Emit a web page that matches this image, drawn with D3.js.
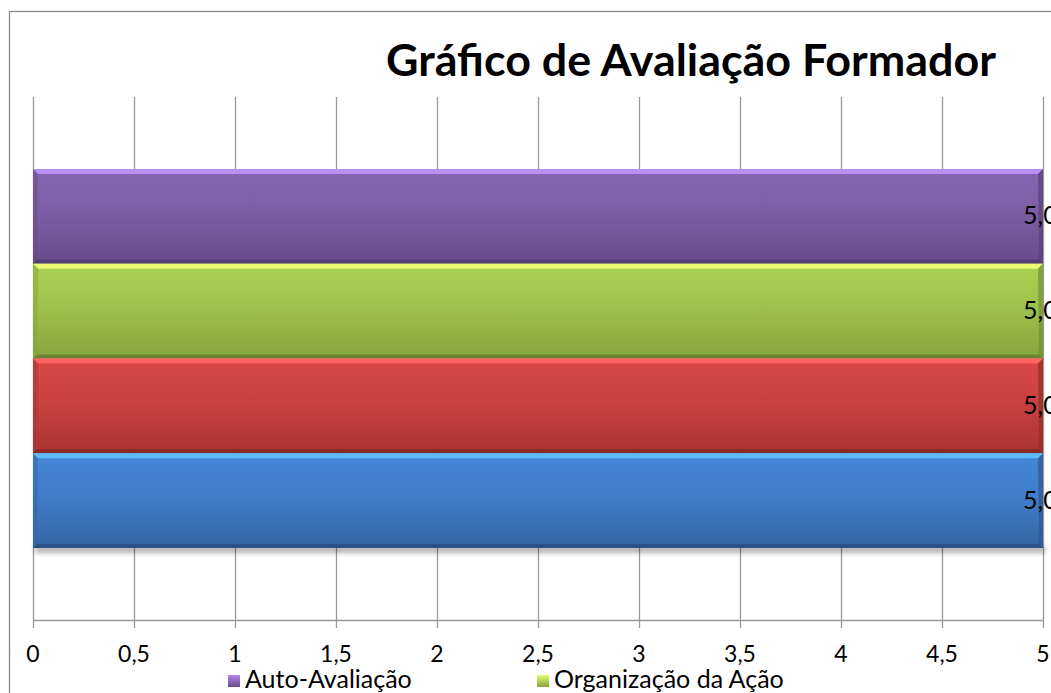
<!DOCTYPE html>
<html>
<head>
<meta charset="utf-8">
<script src="https://cdn.jsdelivr.net/npm/d3@7"></script>
<style>
  html, body { margin: 0; padding: 0; background: #fff; overflow: hidden; }
  svg { display: block; }
  text { font-family: Lato, "Open Sans", sans-serif; fill: #000; }
</style>
</head>
<body>
<svg id="chart" width="1120" height="760"></svg>
<script>
// Evaluation scores, one bar per series (top to bottom)
const seriesNames = ["Auto-Avaliação", "Organização da Ação", "Relação Pedagógica", "Desempenho do Formador"];
const seriesValues = [5, 5, 5, 5];
const seriesTop = ["#8666b2", "#a9d052", "#d84845", "#4587d9"];
const seriesBottom = ["#684a8a", "#85a43d", "#aa3331", "#3465a4"];
const xTicks = [0, 0.5, 1, 1.5, 2, 2.5, 3, 3.5, 4, 4.5, 5];
const titleText = "Gráfico de Avaliação Formador";

const svg = d3.select("#chart");
const fmtTick = v => String(v).replace(".", ",");
const fmtValue = v => v.toFixed(1).replace(".", ",");

const plot = { left: 33, right: 1043, top: 97, bottom: 620 };

const x = d3.scaleLinear().domain([0, 5]).range([plot.left, plot.right]);
const y = d3.scaleBand().domain(seriesNames).range([plot.top, plot.bottom])
  .paddingInner(0).paddingOuter(0.76);

// gradients
const defs = svg.append("defs");
seriesNames.forEach((n, i) => {
  const top = d3.color(seriesTop[i]), bot = d3.color(seriesBottom[i]);
  const g = defs.append("linearGradient").attr("id", "grad" + i)
    .attr("x1", 0).attr("y1", 0).attr("x2", 0).attr("y2", 1);
  g.append("stop").attr("offset", "0%").attr("stop-color", top);
  g.append("stop").attr("offset", "45%").attr("stop-color", d3.interpolateRgb(top, bot)(0.3));
  g.append("stop").attr("offset", "100%").attr("stop-color", bot);
});
const shadow = defs.append("filter").attr("id", "shadow").attr("x", "-5%").attr("y", "-50%")
  .attr("width", "110%").attr("height", "200%");
shadow.append("feGaussianBlur").attr("stdDeviation", 2.5);

// outer chart border
svg.append("rect").attr("x", 9.5).attr("y", 11.5).attr("width", 1200).attr("height", 800)
  .attr("fill", "#fff").attr("stroke", "#898989").attr("stroke-width", 1.3);

// title
const title = svg.append("text").attr("x", 691).attr("y", 76)
  .attr("text-anchor", "middle").attr("font-weight", "bold").attr("font-size", 38)
  .text(titleText);
const tw = title.node().getComputedTextLength();
title.attr("font-size", 38 * 610 / tw);

// vertical gridlines + ticks
svg.append("g").selectAll("line").data(xTicks).join("line")
  .attr("x1", d => Math.round(x(d)) + 0.5).attr("x2", d => Math.round(x(d)) + 0.5)
  .attr("y1", plot.top).attr("y2", plot.bottom + 8)
  .attr("stroke", "#9a9a9a").attr("stroke-width", 1.3);

// horizontal axis line
svg.append("line").attr("x1", plot.left).attr("x2", plot.right + 1)
  .attr("y1", plot.bottom + 0.5).attr("y2", plot.bottom + 0.5)
  .attr("stroke", "#9a9a9a").attr("stroke-width", 1.3);

// tick labels
svg.append("g").selectAll("text").data(xTicks).join("text")
  .attr("x", d => x(d)).attr("y", 662)
  .attr("text-anchor", "middle").attr("font-size", 23)
  .text(fmtTick);

// bars
const barG = svg.append("g");
const bottomName = seriesNames[seriesNames.length - 1];
barG.append("rect")
  .attr("x", x(0) + 2).attr("y", y(bottomName) + y.bandwidth() - 2)
  .attr("width", x(seriesValues[3]) - x(0)).attr("height", 7)
  .attr("fill", "#000").attr("opacity", 0.3).attr("filter", "url(#shadow)");

seriesNames.forEach((name, i) => {
  const top = d3.color(seriesTop[i]), bot = d3.color(seriesBottom[i]);
  const x0 = x(0), x1 = x(seriesValues[i]);
  const y0 = y(name), h = y.bandwidth();
  const g = barG.append("g");
  g.append("rect").attr("x", x0).attr("y", y0).attr("width", x1 - x0).attr("height", h)
    .attr("fill", `url(#grad${i})`);
  // bevel: top highlight
  g.append("polygon")
    .attr("points", [[x0, y0], [x1, y0], [x1 - 5, y0 + 5], [x0 + 5, y0 + 5]].join(" "))
    .attr("fill", top.brighter(1.0)).attr("opacity", 0.9);
  // bevel: bottom shade
  g.append("polygon")
    .attr("points", [[x0, y0 + h], [x1, y0 + h], [x1 - 4, y0 + h - 4], [x0 + 4, y0 + h - 4]].join(" "))
    .attr("fill", bot.darker(0.8)).attr("opacity", 0.8);
  // bevel: left edge
  g.append("polygon")
    .attr("points", [[x0, y0], [x0 + 5, y0 + 5], [x0 + 4, y0 + h - 4], [x0, y0 + h]].join(" "))
    .attr("fill", bot).attr("opacity", 0.5);
  // bevel: right edge
  g.append("polygon")
    .attr("points", [[x1, y0], [x1 - 5, y0 + 5], [x1 - 4, y0 + h - 4], [x1, y0 + h]].join(" "))
    .attr("fill", bot.darker(0.4)).attr("opacity", 0.7);
  // value label
  g.append("text").attr("x", x1 - 20).attr("y", y0 + h / 2 + 8)
    .attr("font-size", 25).text(fmtValue(seriesValues[i]));
});

// legend (two entries per row)
const legend = svg.append("g");
seriesNames.forEach((name, i) => {
  const col = i % 2, row = Math.floor(i / 2);
  const lx = 228 + col * 309, ly = 675 + row * 26;
  const gid = "lg" + i;
  const lg = defs.append("linearGradient").attr("id", gid)
    .attr("x1", 0).attr("y1", 0).attr("x2", 0).attr("y2", 1);
  lg.append("stop").attr("offset", "0%").attr("stop-color", d3.color(seriesTop[i]).brighter(0.8));
  lg.append("stop").attr("offset", "100%").attr("stop-color", seriesBottom[i]);
  legend.append("rect").attr("x", lx).attr("y", ly).attr("width", 12).attr("height", 12)
    .attr("fill", `url(#${gid})`);
  legend.append("text").attr("x", lx + 17).attr("y", ly + 13)
    .attr("font-size", 25).text(name);
});
</script>
</body>
</html>
